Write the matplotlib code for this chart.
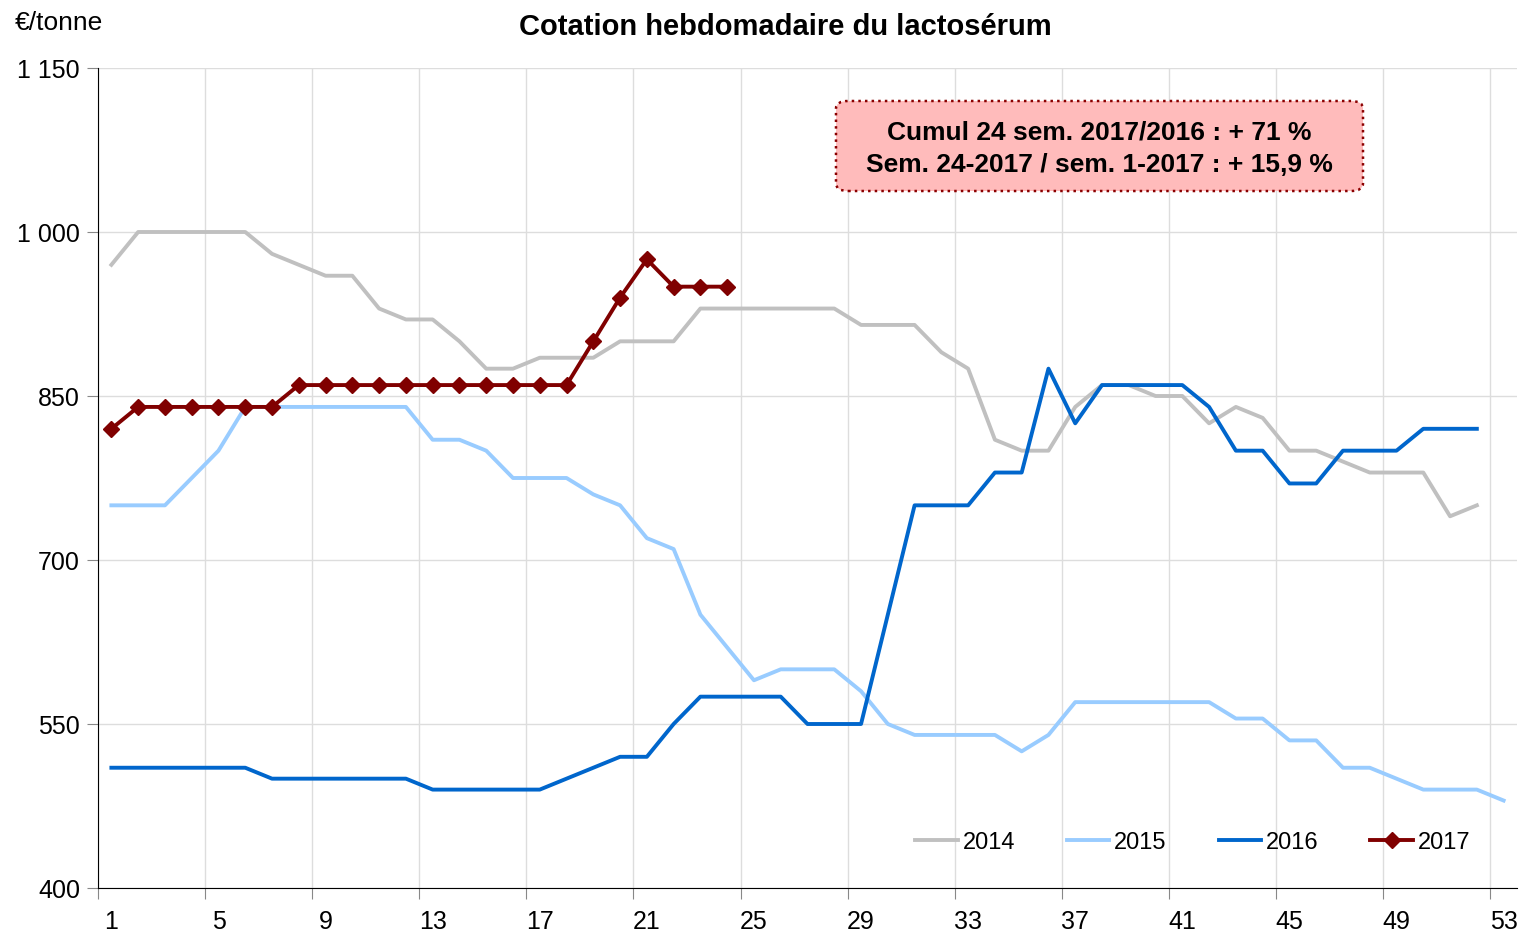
import matplotlib
matplotlib.use("Agg")
import matplotlib.pyplot as plt
from matplotlib.patches import FancyBboxPatch
import numpy as np

plt.rcParams['font.family'] = ['Liberation Sans', 'DejaVu Sans']

# weekly quotation, EUR/tonne
y2014 = [970, 1000, 1000, 1000, 1000, 1000, 980, 970, 960, 960,
         930, 920, 920, 900, 875, 875, 885, 885, 885, 900,
         900, 900, 930, 930, 930, 930, 930, 930, 915, 915,
         915, 890, 875, 810, 800, 800, 840, 860, 860, 850,
         850, 825, 840, 830, 800, 800, 790, 780, 780, 780,
         740, 750]
y2015 = [750, 750, 750, 775, 800, 840, 840, 840, 840, 840,
         840, 840, 810, 810, 800, 775, 775, 775, 760, 750,
         720, 710, 650, 620, 590, 600, 600, 600, 580, 550,
         540, 540, 540, 540, 525, 540, 570, 570, 570, 570,
         570, 570, 555, 555, 535, 535, 510, 510, 500, 490,
         490, 490, 480]
y2016 = [510, 510, 510, 510, 510, 510, 500, 500, 500, 500,
         500, 500, 490, 490, 490, 490, 490, 500, 510, 520,
         520, 550, 575, 575, 575, 575, 550, 550, 550, 650,
         750, 750, 750, 780, 780, 875, 825, 860, 860, 860,
         860, 840, 800, 800, 770, 770, 800, 800, 800, 820,
         820, 820]
y2017 = [820, 840, 840, 840, 840, 840, 840, 860, 860, 860,
         860, 860, 860, 860, 860, 860, 860, 860, 900, 940,
         975, 950, 950, 950]

yticks = [400, 550, 700, 850, 1000, 1150]
ytick_labels = ['400', '550', '700', '850', '1 000', '1 150']
xtick_weeks = list(range(1, 54, 4))

fig = plt.figure(figsize=(15.25, 9.32), dpi=100)
ax = fig.add_axes([98/1525, 1-888/932, (1517-98)/1525, (888-68)/932])

ax.plot(np.arange(1, len(y2014)+1), y2014, color='#C0C0C0', lw=2.8, label='2014', zorder=3)
ax.plot(np.arange(1, len(y2015)+1), y2015, color='#99CCFF', lw=2.8, label='2015', zorder=3)
ax.plot(np.arange(1, len(y2016)+1), y2016, color='#0066CC', lw=2.8, label='2016', zorder=3)
ax.plot(np.arange(1, len(y2017)+1), y2017, color='#800000', lw=2.8, marker='D',
        markersize=8.5, label='2017', zorder=4)

ax.set_xlim(0.5, 53.5)
ax.set_ylim(400, 1150)
ax.set_yticks(yticks)
ax.set_yticklabels(ytick_labels)

# category axis: tick marks between weeks, labels on weeks
ax.set_xticks(np.arange(0.5, 53, 4))
ax.set_xticklabels([])
ax.set_xticks(xtick_weeks, minor=True)
ax.set_xticklabels([str(w) for w in xtick_weeks], minor=True)
ax.tick_params(axis='x', which='major', length=8, color='#888888', direction='out')
ax.tick_params(axis='x', which='minor', length=0, pad=16, labelsize=18)
ax.tick_params(axis='y', length=8, color='#888888', direction='out', labelsize=18, pad=5)

ax.grid(True, which='major', color='#DDDDDD', lw=1)
ax.set_axisbelow(True)
for s in ['top', 'right']:
    ax.spines[s].set_visible(False)
ax.spines['left'].set_color('black')
ax.spines['bottom'].set_color('black')

fig.text(785/1525, 1-27/932, 'Cotation hebdomadaire du lactosérum', ha='center', va='center',
         fontsize=21, fontweight='bold')
fig.text(15/1525, 1-23/932, '€/tonne', ha='left', va='center', fontsize=19)

box = FancyBboxPatch((836/1525, 1-191/932), (1363-836)/1525, (191-101)/932,
                     boxstyle='round,pad=0,rounding_size=0.008', transform=fig.transFigure,
                     facecolor='#FFBBBB', edgecolor='#8B0000', lw=1.8, linestyle=':')
fig.patches.append(box)
fig.text(1099/1525, 1-133/932, 'Cumul 24 sem. 2017/2016 : + 71 %', ha='center', va='center',
         fontsize=19, fontweight='bold')
fig.text(1099/1525, 1-165/932, 'Sem. 24-2017 / sem. 1-2017 : + 15,9 %', ha='center', va='center',
         fontsize=19, fontweight='bold')

ax.legend(loc='lower right', bbox_to_anchor=(0.982, 0.016), ncol=4, frameon=False,
          fontsize=17, handlelength=1.8, handletextpad=0.2, columnspacing=2.2)

fig.savefig('out.png', dpi=100)
